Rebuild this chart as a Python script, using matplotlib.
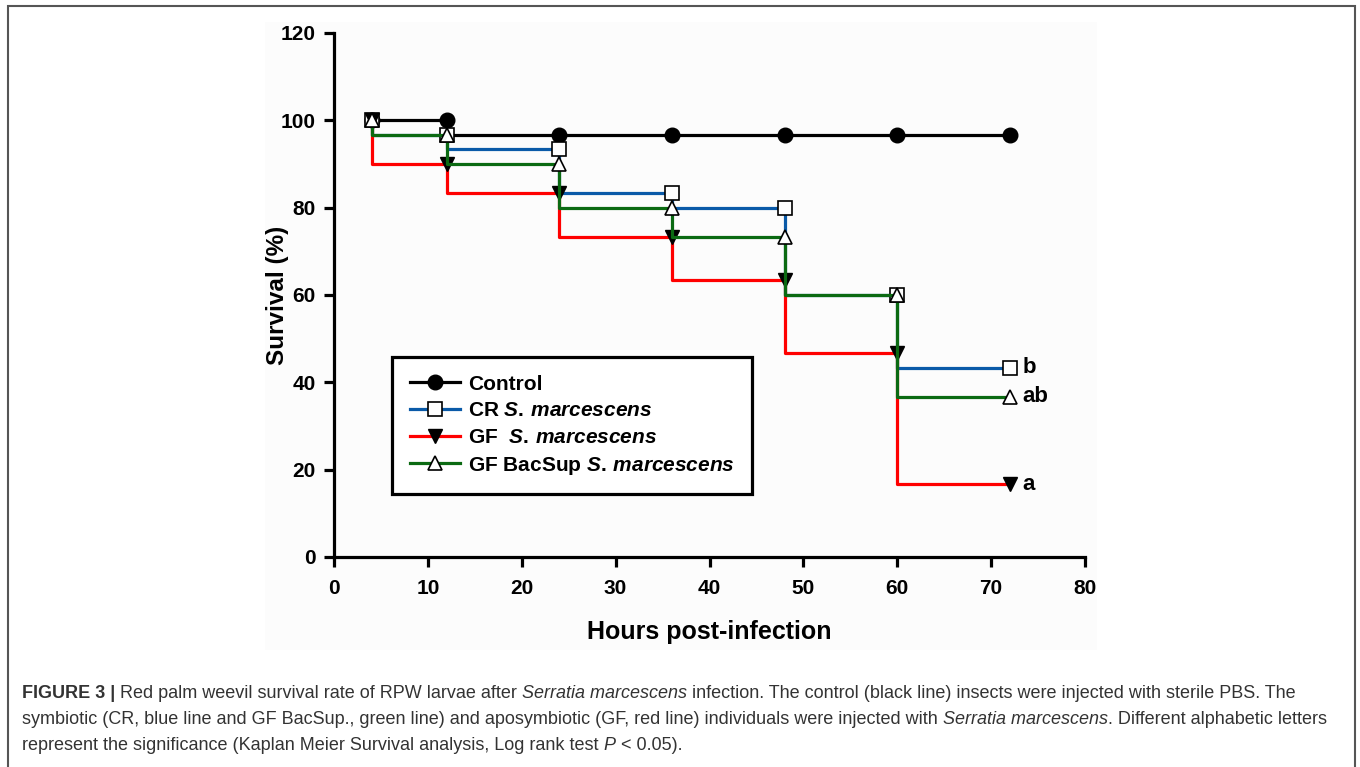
import numpy as np
import matplotlib.pyplot as plt
from matplotlib.patches import Rectangle

plt.rcParams['font.family'] = ['Liberation Sans', 'DejaVu Sans']
plt.rcParams['mathtext.fontset'] = 'custom'
plt.rcParams['mathtext.it'] = 'Liberation Sans:italic:bold'
plt.rcParams['mathtext.rm'] = 'Liberation Sans:bold'

# data (hours, survival %)
hours = [4, 12, 24, 36, 48, 60, 72]
control = [100, 100, 96.67, 96.67, 96.67, 96.67, 96.67]
cr = [100, 96.67, 93.33, 83.33, 80, 60, 43.33]
gf = [100, 90, 83.33, 73.33, 63.33, 46.67, 16.67]
gf_bacsup = [100, 96.67, 90, 80, 73.33, 60, 36.67]

labels = ['Control', r'CR $\mathit{S.\,marcescens}$', r'GF  $\mathit{S.\,marcescens}$',
          r'GF BacSup $\mathit{S.\,marcescens}$']
sig_letters = ['b', 'ab', 'a']

fig = plt.figure(figsize=(13.6, 7.67), dpi=100)

# outer frame and faint plot panel
fig.patches.append(Rectangle((8/1360, -0.05), 1347/1360, 1 - 6/767 + 0.05, transform=fig.transFigure,
                             fill=False, edgecolor='#555555', linewidth=1.5, zorder=-2))
fig.patches.append(Rectangle((265/1360, 1 - 650/767), 832/1360, 628/767, transform=fig.transFigure,
                             facecolor='#fcfcfc', edgecolor='none', zorder=-1))

ax = fig.add_axes([334/1360, 1 - 557/767, 751/1360, 524/767])
ax.patch.set_alpha(0)

ax.plot(hours, control, drawstyle='steps-pre', color='black', lw=2.3, marker='o', ms=10.5,
        mfc='black', mec='black', label=labels[0], zorder=3)
ax.plot(hours, cr, drawstyle='steps-pre', color='#0a5aa8', lw=2.3, marker='s', ms=9.5,
        mfc='white', mec='black', mew=1.2, label=labels[1], zorder=3)
ax.plot(hours, gf, drawstyle='steps-pre', color='#ff0000', lw=2.3, marker='v', ms=10.5,
        mfc='black', mec='black', label=labels[2], zorder=3)
ax.plot(hours, gf_bacsup, drawstyle='steps-pre', color='#0b6a12', lw=2.3, marker='^', ms=10.5,
        mfc='white', mec='black', mew=1.2, label=labels[3], zorder=4)

for y, s in zip([cr[-1], gf_bacsup[-1], gf[-1]], sig_letters):
    ax.text(hours[-1] + 1.3, y, s, fontsize=16, fontweight='bold', va='center', ha='left')

ax.set_xlim(0, 80)
ax.set_ylim(0, 120)
ax.set_xticks(np.arange(0, 81, 10))
ax.set_yticks(np.arange(0, 121, 20))
for s in ['top', 'right']:
    ax.spines[s].set_visible(False)
for s in ['left', 'bottom']:
    ax.spines[s].set_linewidth(2.3)
ax.tick_params(direction='out', length=7, width=2.3, labelsize=15)
ax.tick_params(axis='x', pad=9)
ax.tick_params(axis='y', pad=6)
for t in ax.get_xticklabels() + ax.get_yticklabels():
    t.set_fontweight('bold')

ax.set_xlabel('Hours post-infection', fontsize=18, fontweight='bold', labelpad=16)
ax.set_ylabel('Survival (%)', fontsize=17.5, fontweight='bold', labelpad=-6)

leg = ax.legend(loc='upper left', bbox_to_anchor=(0.077, 0.382), borderaxespad=0,
                prop={'weight': 'bold', 'size': 15}, handlelength=2.4, handletextpad=0.4,
                labelspacing=0.37, fancybox=False, edgecolor='black', framealpha=1,
                borderpad=0.85)
leg.get_frame().set_linewidth(2.3)

# caption, drawn piece by piece so the italic words sit inline
renderer = fig.canvas.get_renderer()
cap_lines = [
    [('FIGURE 3 |', 'normal', 'bold'), (' Red palm weevil survival rate of RPW larvae after ', 'normal', 'normal'),
     ('Serratia marcescens', 'italic', 'normal'),
     (' infection. The control (black line) insects were injected with sterile PBS. The', 'normal', 'normal')],
    [('symbiotic (CR, blue line and GF BacSup., green line) and aposymbiotic (GF, red line) individuals were injected with ',
      'normal', 'normal'), ('Serratia marcescens', 'italic', 'normal'), ('. Different alphabetic letters', 'normal', 'normal')],
    [('represent the significance (Kaplan Meier Survival analysis, Log rank test ', 'normal', 'normal'),
     ('P', 'italic', 'normal'), (' < 0.05).', 'normal', 'normal')],
]
cap_y = [694, 720, 746]
for parts, ypx in zip(cap_lines, cap_y):
    xpx = 22
    for txt, style, weight in parts:
        t = fig.text(xpx / 1360, 1 - ypx / 767, txt, fontsize=12.95, style=style, fontweight=weight,
                     color='#333333', va='center', ha='left')
        bb = t.get_window_extent(renderer=renderer)
        xpx += bb.width

fig.savefig('out.png', dpi=100)
